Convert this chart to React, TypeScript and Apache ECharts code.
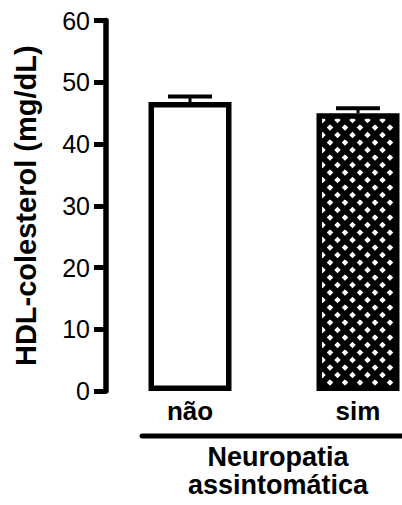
import React, { useEffect, useRef } from "react";
import * as echarts from "echarts";

const categories = ["não", "sim"];
const means = [46.8, 45.0];
const sems = [0.9, 0.8];
const yTicks = [0, 10, 20, 30, 40, 50, 60];
const yTitle = "HDL-colesterol (mg/dL)";
const groupTitle = "Neuropatia\nassintomática";

const FONT = "'Liberation Sans', Arial, Helvetica, sans-serif";

function makePattern(): HTMLCanvasElement {
  const c = document.createElement("canvas");
  const p = 15;
  c.width = p;
  c.height = p;
  const ctx = c.getContext("2d")!;
  ctx.fillStyle = "#ffffff";
  ctx.fillRect(0, 0, p, p);
  ctx.strokeStyle = "#000000";
  ctx.lineWidth = 6.0;
  for (const k of [-p, 0, p]) {
    ctx.beginPath();
    ctx.moveTo(-p + k, -p);
    ctx.lineTo(2 * p + k, 2 * p);
    ctx.stroke();
    ctx.beginPath();
    ctx.moveTo(2 * p + k, -p);
    ctx.lineTo(-p + k, 2 * p);
    ctx.stroke();
  }
  return c;
}

export default function App() {
  const ref = useRef<HTMLDivElement>(null);
  useEffect(() => {
    if (!ref.current) return;
    const chart = echarts.init(ref.current, null, { renderer: "svg" });
    const pattern = makePattern();
    chart.setOption({
      animation: false,
      grid: {
        left: 106,
        top: 20.5,
        width: 336,
        bottom: 114,
        containLabel: false,
        outerBoundsMode: "none",
      },
      xAxis: {
        type: "category",
        data: categories,
        axisLine: { show: false },
        axisTick: { show: false },
        axisLabel: {
          margin: 7,
          fontFamily: FONT,
          fontWeight: "bold",
          fontSize: 26,
          color: "#000",
        },
      },
      yAxis: {
        type: "value",
        min: yTicks[0],
        max: yTicks[yTicks.length - 1],
        interval: 10,
        name: yTitle,
        nameLocation: "middle",
        nameRotate: 90,
        nameGap: 66,
        nameTextStyle: {
          fontFamily: FONT,
          fontWeight: "bold",
          fontSize: 29,
          color: "#000",
        },
        axisLine: { show: true, lineStyle: { color: "#000", width: 5.5 } },
        axisTick: { show: true, length: 12, lineStyle: { color: "#000", width: 5 } },
        axisLabel: {
          margin: 16,
          fontFamily: FONT,
          fontSize: 25,
          color: "#000",
        },
        splitLine: { show: false },
      },
      series: [
        {
          type: "bar",
          barWidth: 83,
          data: means.map((v, i) => ({
            value: v,
            itemStyle:
              i === 0
                ? { color: "#ffffff", borderColor: "#000", borderWidth: 5.5 }
                : {
                    color: { image: pattern, repeat: "repeat" },
                    borderColor: "#000",
                    borderWidth: 5.5,
                  },
          })),
          z: 2,
        },
        {
          type: "custom",
          z: 3,
          data: means.map((m, i) => [i, m, m + sems[i]]),
          renderItem: (params: any, api: any) => {
            const i = api.value(0);
            const lo = api.coord([i, api.value(1)]);
            const hi = api.coord([i, api.value(2)]);
            const half = 22;
            return {
              type: "group",
              children: [
                {
                  type: "line",
                  shape: { x1: hi[0], y1: lo[1], x2: hi[0], y2: hi[1] },
                  style: { stroke: "#000", lineWidth: 3 },
                },
                {
                  type: "line",
                  shape: { x1: hi[0] - half, y1: hi[1], x2: hi[0] + half, y2: hi[1] },
                  style: { stroke: "#000", lineWidth: 4 },
                },
              ],
            };
          },
        },
      ],
      graphic: [
        {
          type: "line",
          shape: { x1: 142, y1: 436, x2: 404, y2: 436 },
          style: { stroke: "#000", lineWidth: 5, lineCap: "round" },
        },
        {
          type: "text",
          x: 278,
          y: 471,
          style: {
            text: groupTitle,
            fontFamily: FONT,
            fontWeight: "bold",
            fontSize: 27,
            lineHeight: 28,
            fill: "#000",
            align: "center",
            verticalAlign: "middle",
          },
        },
      ],
    });
    return () => chart.dispose();
  }, []);
  return (
    <div
      ref={ref}
      style={{ position: "fixed", left: 0, top: 0, width: 402, height: 505, background: "#fff" }}
    />
  );
}
